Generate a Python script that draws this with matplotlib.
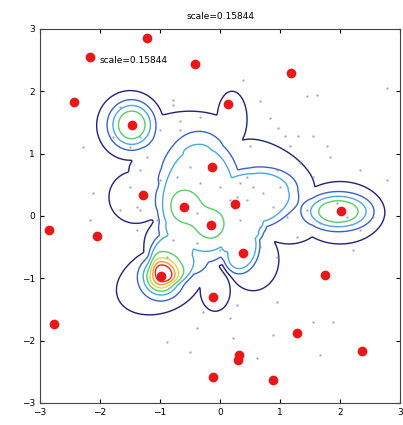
import matplotlib

matplotlib.use("Agg")
import matplotlib.pyplot as plt  # noqa: E402
import numpy as np  # noqa: E402

TITLE = "scale=0.15844"

# red centre points
centre_x = [-1.22, -2.17, -0.42, 1.18, -2.43, 0.13, -1.47, -0.13, -1.28, -0.60,
            0.25, 2.02, -2.85, -2.05, -0.15, 0.38, -0.98, 1.75, -0.12, -2.77,
            1.28, 2.37, 0.32, 0.30, -0.12, 0.88]
centre_y = [2.86, 2.55, 2.44, 2.30, 1.83, 1.80, 1.46, 0.79, 0.34, 0.14,
            0.19, 0.08, -0.22, -0.32, -0.14, -0.59, -0.96, -0.95, -1.30, -1.73,
            -1.88, -2.17, -2.23, -2.31, -2.58, -2.63]

# faint sample points
pts_x = [0.38, 1.45, 1.62, 0.67, 0.83, 0.97, 1.08, 1.30, 1.55, 1.78, 1.17, 0.50, 2.78,
         0.55, 0.72, 1.00, 0.45, 0.88, 0.33, 0.67, 0.95, 1.33, 1.55, 1.83, 2.33, 2.78,
         1.95, 2.12, 1.67, 2.33, 2.55, 1.45, 1.12, 1.28, 2.22, 0.95, 0.67, 0.33, 0.17,
         -1.33, -1.22, -1.00, -1.38, -1.05, -0.50, -0.72, -0.33, 0.00, 0.45, 0.28, -0.38,
         -0.78, -0.38, 0.00, -0.88, -2.28, -2.17, -0.78, -0.33, -0.67, -1.00, -1.67, -1.78,
         -1.50, 0.28, 0.95, 1.55, 0.88, 1.67, 0.17, 0.22, 0.62, 1.88, -0.38, -0.50, -0.28,
         -0.88, -1.33, -1.50, -1.67, -1.33, -1.38, -2.12, -0.78, -0.67]
pts_y = [2.18, 1.93, 1.94, 1.85, 1.57, 1.41, 1.28, 1.28, 1.28, 1.12, 1.12, 1.12, 2.05,
         0.47, 0.37, 0.47, 0.26, 0.14, -0.06, -0.18, 0.74, 0.85, 0.63, 0.95, 0.74, 0.58,
         0.21, -0.02, -0.11, -0.22, -0.02, 0.10, -0.02, -0.34, -0.55, -0.66, -0.50, 0.53, 0.26,
         1.27, 0.95, 0.58, 0.14, -0.06, 0.79, 0.63, 0.53, 0.47, 0.63, 0.30, 0.05,
         -0.39, -0.43, -0.55, -0.66, 1.11, -0.06, 1.86, 1.59, 1.38, 1.38, 1.75, 1.27,
         1.11, -1.43, -1.38, -1.70, -1.91, -2.23, -1.64, -1.96, -2.28, -1.70, -1.80, -2.18, -1.54,
         -2.02, 0.74, 0.47, 0.10, 0.10, -0.22, 0.37, 1.78, 1.52]

# outer blob (lowest contour) as a union of ellipses: cx, cy, rx, ry, angle
blob = [(-1.50, 1.45, 0.55, 0.55, 0), (-0.50, 1.30, 0.80, 0.38, 0), (0.20, 1.55, 0.25, 0.45, 0),
        (-1.00, 1.05, 0.40, 0.40, 0), (-1.20, 0.72, 0.32, 0.28, 0), (-0.10, 0.35, 1.05, 0.95, 0),
        (0.90, 0.75, 0.75, 0.35, -30), (1.15, 0.05, 0.60, 0.50, 0), (0.55, -0.70, 0.43, 0.50, 0),
        (2.00, 0.05, 0.72, 0.50, 0), (-0.08, -1.20, 0.25, 0.33, 0), (-1.00, -1.05, 0.75, 0.50, 20),
        (-0.85, -0.50, 0.40, 0.45, 30), (-1.40, 0.30, 0.45, 0.42, 0)]
# central plateau (third contour)
plateau = [(-0.35, 0.20, 0.60, 0.95, 0), (0.45, 0.25, 0.72, 0.42, 13), (0.30, -0.45, 0.30, 0.40, 0),
           (0.45, -0.10, 0.28, 0.30, 0), (-0.75, -0.65, 0.35, 0.35, 0)]
# peaks: cx, cy, height, sx, sy, shape exponent
peaks = [(-0.98, -0.97, 6.0, 0.18, 0.18, 2), (-1.47, 1.46, 3.3, 0.27, 0.27, 3),
         (1.97, 0.07, 3.3, 0.40, 0.21, 3), (-0.60, 0.15, 1.2, 0.20, 0.20, 2),
         (-0.15, -0.15, 1.2, 0.18, 0.18, 2)]

levels = [1, 2, 3, 4, 5, 6, 7]
level_colors = ["#22227a", "#3a62c8", "#48a8e0", "#58cc6a", "#dcd840", "#f09a38", "#e02a1a"]


def ell_dist(gx, gy, cx, cy, rx, ry, ang):
    t = np.deg2rad(ang)
    u = (gx - cx) * np.cos(t) + (gy - cy) * np.sin(t)
    v = -(gx - cx) * np.sin(t) + (gy - cy) * np.cos(t)
    return np.sqrt((u / rx) ** 2 + (v / ry) ** 2)


gx, gy = np.meshgrid(np.linspace(-3, 3, 301), np.linspace(-3, 3, 301))
base = np.max([np.exp(-np.log(1.5) * ell_dist(gx, gy, *e) ** 6) for e in blob], axis=0)
mid = np.max([np.exp(-np.log(4 / 3) * ell_dist(gx, gy, *e) ** 8) for e in plateau], axis=0)
dens = 1.5 * base + 2.0 * mid
for cx, cy, h, sx, sy, p in peaks:
    dens += h * np.exp(-0.5 * ell_dist(gx, gy, cx, cy, sx, sy, 0) ** p)

fig = plt.figure(figsize=(4.03, 4.25), dpi=100)
ax = fig.add_axes([0.099, 0.052, 0.894, 0.880])
ax.contour(gx, gy, dens, levels=levels, colors=level_colors, linewidths=1.0)
ax.plot(pts_x, pts_y, ".", color="#8a96c4", ms=1.5, alpha=0.7)
ax.plot(centre_x, centre_y, "o", color="#e81818", ms=7, mec="none")
ax.text(-2.0, 2.5, TITLE, fontsize=6.5, va="center")
ax.set_title(TITLE, fontsize=6.5, pad=7)
ax.set_xlim(-3, 3)
ax.set_ylim(-3, 3)
ax.set_xticks(range(-3, 4))
ax.set_yticks(range(-3, 4))
ax.tick_params(direction="in", top=True, right=True, labelsize=6.5, length=3)
for s in ax.spines.values():
    s.set_color("#444444")
fig.savefig("out.png", dpi=100)
